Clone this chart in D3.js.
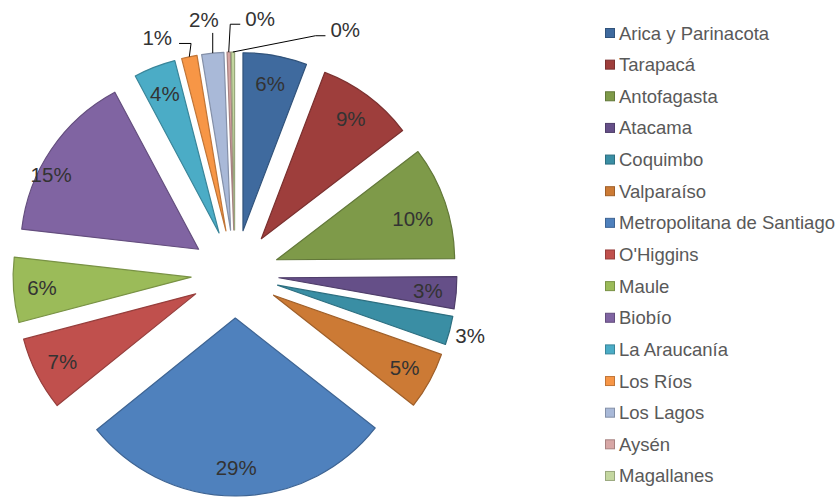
<!DOCTYPE html>
<html>
<head>
<meta charset="utf-8">
<script src="https://cdn.jsdelivr.net/npm/d3@7"></script>
<style>
  body { margin: 0; background: #fff; }
  svg { display: block; font-family: "Liberation Sans", Arial, sans-serif; }
</style>
</head>
<body>
<div id="chart"></div>
<script>
var regions = ["Arica y Parinacota", "Tarapacá", "Antofagasta", "Atacama", "Coquimbo",
    "Valparaíso", "Metropolitana de Santiago", "O'Higgins", "Maule", "Biobío",
    "La Araucanía", "Los Ríos", "Los Lagos", "Aysén", "Magallanes"];
var shares = [5.8, 8.8, 10.3, 2.9, 2.6, 5.2, 28.6, 6.7, 5.9, 15.4, 3.8, 1.4, 2.0, 0.3, 0.3];
var colors = ["#3f6a9e", "#9e3e3c", "#7e9a49", "#654f88", "#3a8ea4", "#cc7a35",
    "#4f81bd", "#c0504d", "#9bbb59", "#8064a2", "#4bacc6", "#f79646",
    "#a9b9d8", "#d7a7a6", "#c4d7a0"];

// labels that sit outside their slice (angle in degrees, radius from pie centre)
var callouts = {
    "Coquimbo": { angle: 104.6, radius: 243, side: "none" },
    "Los Ríos": { angle: 341.8, radius: 249, side: "left" },
    "Los Lagos": { angle: 353, radius: 256, side: "above" },
    "Aysén": { angle: 5.6, radius: 257, side: "right" },
    "Magallanes": { angle: 24.3, radius: 268, side: "right" }
};
// inside labels that Excel nudged away from the bisector
var nudges = {
    "Biobío": { angle: 297, factor: 0.93 },
    "Antofagasta": { angle: 73, factor: 0.80 }
};

var width = 839, height = 498;
var cx = 235, cy = 274, radius = 178, explode = 44;

var svg = d3.select("#chart")
    .append("svg")
    .attr("width", width)
    .attr("height", height);

var total = d3.sum(shares);
var fmt = d3.format(".0%");

var pie = d3.pie().sort(null).value(function (d) { return d; });
var arcs = pie(shares);

var arc = d3.arc().innerRadius(0).outerRadius(radius);

function mid(d) { return (d.startAngle + d.endAngle) / 2; }
function polar(a, r) { return [Math.sin(a) * r, -Math.cos(a) * r]; }
function labelPos(d) {
    var n = nudges[regions[d.index]];
    if (n) return polar(n.angle * Math.PI / 180, radius * n.factor);
    return polar(mid(d), radius * 0.84);
}

var pieG = svg.append("g")
    .attr("transform", "translate(" + cx + "," + cy + ")");

var slices = pieG.selectAll("g.slice")
    .data(arcs)
    .enter()
    .append("g")
    .attr("class", "slice")
    .attr("transform", function (d) {
        var p = polar(mid(d), explode);
        return "translate(" + p[0] + "," + p[1] + ")";
    });

slices.append("path")
    .attr("d", arc)
    .attr("fill", function (d, i) { return colors[i]; })
    .attr("stroke", function (d, i) { return d3.color(colors[i]).darker(0.7); })
    .attr("stroke-width", 1.2)
    .attr("stroke-linejoin", "round");

// inside labels
slices.filter(function (d, i) { return !callouts[regions[i]]; })
    .append("text")
    .attr("x", function (d) { return labelPos(d)[0]; })
    .attr("y", function (d) { return labelPos(d)[1]; })
    .attr("text-anchor", "middle")
    .attr("dominant-baseline", "central")
    .attr("fill", "#333333")
    .style("font-size", "20.5px")
    .text(function (d) { return fmt(d.value / total); });

// outside labels with leader lines
arcs.forEach(function (d, i) {
    var c = callouts[regions[i]];
    if (!c) return;
    var a = c.angle * Math.PI / 180;
    var lp = polar(a, c.radius);
    var t = pieG.append("text")
        .attr("x", lp[0])
        .attr("y", lp[1])
        .attr("text-anchor", "middle")
        .attr("dominant-baseline", "central")
        .attr("fill", "#333333")
        .style("font-size", "20.5px")
        .text(fmt(d.value / total));
    if (c.side === "none") return;

    var bb = t.node().getBBox();
    var off = polar(mid(d), explode);
    var edge = polar(mid(d), radius);
    var start = [off[0] + edge[0], off[1] + edge[1]];
    var pts;
    if (c.side === "left") {
        var e = [bb.x + bb.width + 7, lp[1] + 6];
        pts = [start, [e[0] + 12, e[1]], e];
    } else if (c.side === "right") {
        var e2 = [bb.x - 5, lp[1] + 6];
        pts = [start, [e2[0] - 10, e2[1]], e2];
    } else {
        pts = [start, [start[0], lp[1] + 13]];
    }
    pieG.append("path")
        .attr("d", d3.line()(pts))
        .attr("fill", "none")
        .attr("stroke", "#000")
        .attr("stroke-width", 1);
});

// legend
var legend = svg.append("g")
    .attr("transform", "translate(605,33)");

var item = legend.selectAll("g")
    .data(regions)
    .enter()
    .append("g")
    .attr("transform", function (d, i) { return "translate(0," + (i * 31.64) + ")"; });

item.append("rect")
    .attr("x", 0.5)
    .attr("y", -4.5)
    .attr("width", 9)
    .attr("height", 9)
    .attr("fill", function (d, i) { return colors[i]; })
    .attr("stroke", function (d, i) { return d3.color(colors[i]).darker(0.7); })
    .attr("stroke-width", 1);

item.append("text")
    .attr("x", 14)
    .attr("y", 0)
    .attr("dominant-baseline", "central")
    .attr("fill", "#595959")
    .style("font-size", "18.5px")
    .text(function (d) { return d; });
</script>
</body>
</html>
